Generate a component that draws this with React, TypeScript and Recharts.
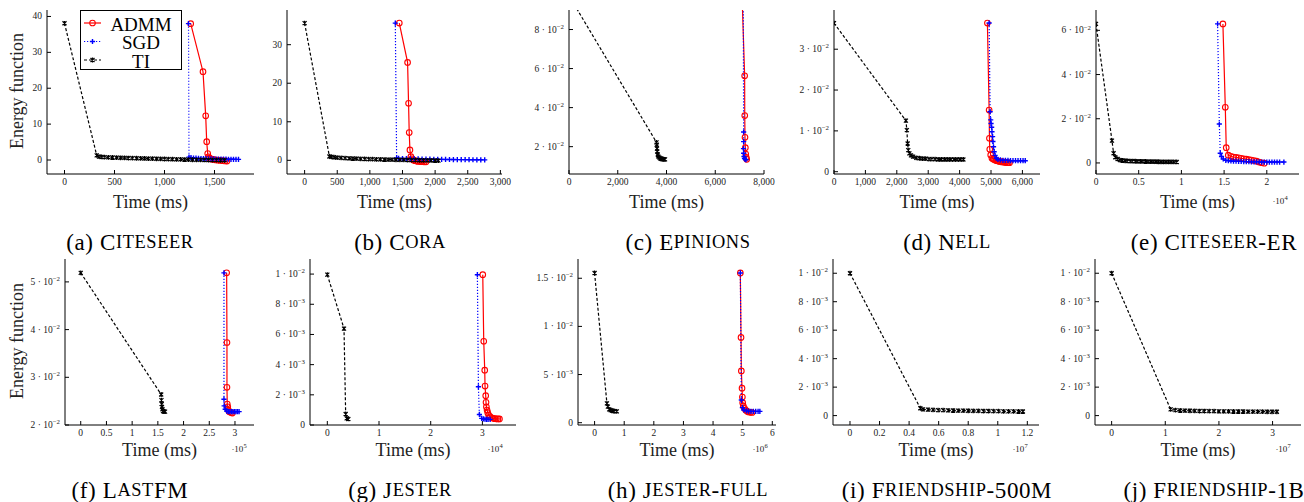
import { LineChart, Line, XAxis, YAxis } from 'recharts'

const SERIF = '"Liberation Serif", "Times New Roman", serif'
const RED = '#ff0000'
const BLUE = '#0000ff'
const INK = '#000000'

// (a) Citeseer -- time in ms
const admmA = [[1262, 38], [1385, 24.6], [1412, 12.3], [1422, 5.1], [1432, 1.8], [1440, 0.9], [1450, 0.5], [1465, 0.3], [1485, 0.15], [1505, 0.05], [1530, -0.05], [1555, -0.12], [1580, -0.2], [1605, -0.27], [1625, -0.3]]
const sgdA = [[1240, 38], [1245, 0.8], [1265, 0.65], [1290, 0.55], [1315, 0.5], [1340, 0.46], [1365, 0.42], [1390, 0.39], [1415, 0.36], [1440, 0.34], [1465, 0.32], [1490, 0.3], [1515, 0.28], [1540, 0.26], [1565, 0.25], [1590, 0.23], [1615, 0.22], [1640, 0.21], [1665, 0.2], [1690, 0.19], [1715, 0.18], [1740, 0.17]]
const tiA = [[0, 38.1], [322, 1.3], [345, 0.95], [370, 0.85], [400, 0.8], [440, 0.75], [480, 0.7], [520, 0.66], [560, 0.62], [600, 0.58], [640, 0.55], [680, 0.52], [720, 0.49], [760, 0.46], [800, 0.43], [840, 0.4], [880, 0.37], [920, 0.34], [960, 0.31], [1000, 0.28], [1040, 0.25], [1080, 0.22], [1120, 0.19], [1160, 0.16], [1200, 0.13], [1240, 0.1], [1280, 0.07], [1320, 0.05], [1360, 0.03], [1400, 0.01], [1440, -0.01], [1480, -0.03], [1520, -0.05], [1560, -0.07], [1600, -0.08]]

// (b) Cora
const admmB = [[1451, 35.6], [1578, 25.4], [1593, 14.8], [1603, 7.2], [1614, 2.7], [1629, 0.95], [1645, 0.4], [1665, 0.1], [1690, -0.1], [1715, -0.2], [1740, -0.28], [1770, -0.33], [1800, -0.36], [1830, -0.38], [1860, -0.4]]
const sgdB = [[1390, 35.6], [1410, 0.6], [1440, 0.5], [1500, 0.46], [1560, 0.43], [1620, 0.4], [1680, 0.37], [1740, 0.35], [1800, 0.33], [1860, 0.31], [1920, 0.29], [1980, 0.27], [2040, 0.25], [2100, 0.24], [2160, 0.22], [2220, 0.21], [2280, 0.2], [2340, 0.19], [2400, 0.18], [2460, 0.17], [2520, 0.16], [2580, 0.15], [2640, 0.14], [2700, 0.13], [2760, 0.12]]
const tiB = [[0, 35.6], [380, 1.0], [410, 0.9], [450, 0.8], [500, 0.7], [560, 0.62], [620, 0.56], [680, 0.5], [740, 0.46], [800, 0.42], [860, 0.38], [920, 0.35], [980, 0.32], [1040, 0.29], [1100, 0.26], [1160, 0.23], [1220, 0.2], [1280, 0.18], [1340, 0.16], [1400, 0.14], [1460, 0.12], [1520, 0.1], [1580, 0.08], [1640, 0.06], [1700, 0.04], [1760, 0.02], [1820, 0.0], [1880, -0.02], [1940, -0.04], [2000, -0.06], [2050, -0.08]]

// (c) Epinions
const admmC = [[7100, 0.097], [7206, 0.0563], [7210, 0.0359], [7220, 0.0248], [7235, 0.0195], [7250, 0.0162], [7270, 0.0145], [7290, 0.0135]]
const sgdC = [[7150, 0.097], [7165, 0.0275], [7165, 0.0226], [7160, 0.019], [7165, 0.0166], [7180, 0.015], [7200, 0.014], [7230, 0.0135], [7260, 0.0133]]
const tiC = [[0, 0.0973], [3590, 0.0222], [3600, 0.021], [3610, 0.019], [3620, 0.0175], [3640, 0.016], [3660, 0.015], [3700, 0.0145], [3740, 0.014], [3780, 0.0138], [3820, 0.0137], [3860, 0.0136], [3900, 0.0135], [3940, 0.0135]]

// (d) Nell
const admmD = [[4885, 0.0364], [4940, 0.0151], [4950, 0.0082], [4960, 0.0055], [4990, 0.0041], [5030, 0.0033], [5070, 0.0031], [5110, 0.0029], [5150, 0.0028], [5190, 0.0027], [5230, 0.0026], [5270, 0.0025], [5310, 0.0025], [5350, 0.0024], [5390, 0.0024], [5430, 0.0023], [5470, 0.0023], [5510, 0.0022], [5550, 0.0022], [5590, 0.0022]]
const sgdD = [[4940, 0.0364], [4971, 0.0147], [4990, 0.0127], [5000, 0.0118], [5020, 0.0109], [5030, 0.0098], [5050, 0.0086], [5060, 0.0074], [5080, 0.0061], [5100, 0.0049], [5130, 0.004], [5170, 0.0033], [5220, 0.003], [5300, 0.0029], [5380, 0.0028], [5460, 0.0028], [5540, 0.0028], [5620, 0.0027], [5700, 0.0027], [5780, 0.0027], [5860, 0.0027], [5940, 0.0027], [6020, 0.0027], [6090, 0.0027]]
const tiD = [[0, 0.0364], [2290, 0.0125], [2320, 0.0102], [2345, 0.0069], [2365, 0.0053], [2400, 0.0045], [2450, 0.004], [2520, 0.0037], [2620, 0.0034], [2720, 0.0033], [2820, 0.0032], [2920, 0.0032], [3020, 0.0031], [3120, 0.0031], [3220, 0.0031], [3320, 0.003], [3420, 0.003], [3520, 0.003], [3620, 0.003], [3720, 0.003], [3820, 0.003], [3920, 0.003], [4020, 0.003], [4120, 0.003]]

// (e) Citeseer-ER -- time in 10^4 ms
const admmE = [[1.486, 0.0629], [1.514, 0.0252], [1.525, 0.0069], [1.549, 0.0035], [1.58, 0.003], [1.61, 0.0027], [1.64, 0.0025], [1.67, 0.0023], [1.7, 0.0021], [1.73, 0.0019], [1.76, 0.0017], [1.79, 0.0015], [1.82, 0.0013], [1.85, 0.0011], [1.88, 0.0008], [1.91, 0.0004], [1.94, 0.0001], [1.97, -0.0001]]
const sgdE = [[1.424, 0.0629], [1.444, 0.0176], [1.455, 0.0044], [1.47, 0.0029], [1.49, 0.0018], [1.52, 0.0012], [1.55, 0.001], [1.58, 0.0009], [1.61, 0.0008], [1.64, 0.0008], [1.67, 0.0007], [1.7, 0.0007], [1.73, 0.0006], [1.76, 0.0006], [1.79, 0.0006], [1.82, 0.0005], [1.85, 0.0005], [1.88, 0.0005], [1.91, 0.0005], [1.94, 0.0004], [1.97, 0.0004], [2.0, 0.0004], [2.03, 0.0004], [2.06, 0.0004], [2.09, 0.0004], [2.12, 0.0004], [2.15, 0.0004], [2.2, 0.0004]]
const tiE = [[0, 0.0629], [0.187, 0.0101], [0.206, 0.0044], [0.226, 0.0026], [0.253, 0.0018], [0.28, 0.0013], [0.31, 0.0011], [0.34, 0.001], [0.37, 0.0009], [0.4, 0.00085], [0.43, 0.0008], [0.46, 0.00077], [0.49, 0.00074], [0.52, 0.00071], [0.55, 0.00068], [0.58, 0.00065], [0.61, 0.00062], [0.64, 0.0006], [0.67, 0.00058], [0.7, 0.00056], [0.73, 0.00054], [0.76, 0.00052], [0.79, 0.0005], [0.82, 0.00049], [0.85, 0.00048], [0.88, 0.00047], [0.91, 0.00046], [0.945, 0.00045]]

// (f) LastFM -- time in 10^5 ms
const admmF = [[2.838, 0.0519], [2.844, 0.0373], [2.844, 0.0279], [2.85, 0.0244], [2.86, 0.0238], [2.87, 0.0231], [2.89, 0.0228], [2.92, 0.0226], [2.95, 0.0225]]
const sgdF = [[2.786, 0.0519], [2.786, 0.0254], [2.79, 0.024], [2.81, 0.0233], [2.84, 0.0229], [2.87, 0.0228], [2.9, 0.0228], [2.93, 0.0228], [2.96, 0.0228], [2.99, 0.0228], [3.02, 0.0228], [3.05, 0.0228], [3.08, 0.0228]]
const tiF = [[0, 0.0519], [1.565, 0.0264], [1.57, 0.0252], [1.575, 0.0244], [1.58, 0.0238], [1.59, 0.0233], [1.6, 0.0229], [1.62, 0.0228], [1.64, 0.0228]]

// (g) Jester -- time in 10^4 ms
const admmG = [[3.007, 0.00996], [3.026, 0.00555], [3.045, 0.00363], [3.051, 0.00258], [3.064, 0.00194], [3.07, 0.0015], [3.077, 0.00121], [3.09, 0.00099], [3.103, 0.00082], [3.122, 0.00066], [3.148, 0.00055], [3.18, 0.00048], [3.21, 0.00044], [3.24, 0.00042], [3.27, 0.00041], [3.3, 0.0004], [3.33, 0.0004]]
const sgdG = [[2.903, 0.00996], [2.923, 0.00253], [2.942, 0.0007], [2.987, 0.00044], [3.02, 0.0004], [3.05, 0.00038], [3.08, 0.00037], [3.11, 0.00037], [3.15, 0.00037]]
const tiG = [[0, 0.00996], [0.323, 0.00639], [0.355, 0.00073], [0.374, 0.00044], [0.406, 0.0004]]

// (h) Jester-full -- time in 10^6 ms
const admmH = [[4.921, 0.01555], [4.944, 0.00885], [4.955, 0.00538], [4.978, 0.00358], [4.99, 0.00267], [5.0, 0.00208], [5.02, 0.00174], [5.06, 0.00149], [5.1, 0.00132], [5.15, 0.00118], [5.2, 0.00111], [5.26, 0.00108], [5.32, 0.00106]]
const sgdH = [[4.921, 0.01555], [4.955, 0.00236], [4.99, 0.00156], [5.04, 0.00132], [5.13, 0.00122], [5.2, 0.0012], [5.28, 0.00118], [5.36, 0.00118], [5.44, 0.00118], [5.52, 0.00118], [5.58, 0.00118]]
const tiH = [[0, 0.01555], [0.416, 0.00201], [0.449, 0.00167], [0.494, 0.00139], [0.54, 0.0013], [0.584, 0.00125], [0.63, 0.00121], [0.68, 0.0012], [0.75, 0.00118]]

// (i) Friendship-500M -- time in 10^7 ms, TI only
const tiI = [[0, 0.01], [0.476, 0.000515], [0.494, 0.00044], [0.528, 0.00042], [0.562, 0.0004], [0.596, 0.00039], [0.63, 0.00038], [0.664, 0.00037], [0.698, 0.00036], [0.732, 0.00035], [0.766, 0.00035], [0.8, 0.00034], [0.834, 0.00033], [0.868, 0.00033], [0.902, 0.00032], [0.936, 0.00032], [0.97, 0.00031], [1.004, 0.00031], [1.038, 0.0003], [1.072, 0.0003], [1.106, 0.0003], [1.14, 0.00029], [1.17, 0.00029]]

// (j) Friendship-1B -- time in 10^7 ms, TI only
const tiJ = [[0, 0.01], [1.1, 0.00044], [1.19, 0.00038], [1.28, 0.00036], [1.37, 0.00035], [1.46, 0.00034], [1.55, 0.00033], [1.64, 0.00032], [1.73, 0.00032], [1.82, 0.00031], [1.91, 0.00031], [2.0, 0.0003], [2.09, 0.0003], [2.18, 0.0003], [2.27, 0.00029], [2.36, 0.00029], [2.45, 0.00029], [2.54, 0.00028], [2.63, 0.00028], [2.72, 0.00028], [2.81, 0.00028], [2.9, 0.00027], [2.99, 0.00027], [3.08, 0.00027]]

// tick values and their labels ("^" marks a superscript)
const xTicksA = [0, 500, 1000, 1500]
const xLabelsA = ['0', '500', '1,000', '1,500']
const xTicksB = [0, 500, 1000, 1500, 2000, 2500, 3000]
const xLabelsB = ['0', '500', '1,000', '1,500', '2,000', '2,500', '3,000']
const xTicksC = [0, 2000, 4000, 6000, 8000]
const xLabelsC = ['0', '2,000', '4,000', '6,000', '8,000']
const xTicksD = [0, 1000, 2000, 3000, 4000, 5000, 6000]
const xLabelsD = ['0', '1,000', '2,000', '3,000', '4,000', '5,000', '6,000']
const xTicksE = [0, 0.5, 1, 1.5, 2]
const xLabelsE = ['0', '0.5', '1', '1.5', '2']
const xTicksF = [0, 0.5, 1, 1.5, 2, 2.5, 3]
const xLabelsF = ['0', '0.5', '1', '1.5', '2', '2.5', '3']
const xTicksG = [0, 1, 2, 3]
const xLabelsG = ['0', '1', '2', '3']
const xTicksH = [0, 1, 2, 3, 4, 5, 6]
const xLabelsH = ['0', '1', '2', '3', '4', '5', '6']
const xTicksI = [0, 0.2, 0.4, 0.6, 0.8, 1, 1.2]
const xLabelsI = ['0', '0.2', '0.4', '0.6', '0.8', '1', '1.2']
const xTicksJ = [0, 1, 2, 3]
const xLabelsJ = ['0', '1', '2', '3']

const yTicksA = [0, 10, 20, 30, 40]
const yLabelsA = ['0', '10', '20', '30', '40']
const yTicksB = [0, 10, 20, 30]
const yLabelsB = ['0', '10', '20', '30']
const yTicksC = [0.02, 0.04, 0.06, 0.08]
const yLabelsC = ['2 · 10^−2', '4 · 10^−2', '6 · 10^−2', '8 · 10^−2']
const yTicksD = [0, 0.01, 0.02, 0.03]
const yLabelsD = ['0', '1 · 10^−2', '2 · 10^−2', '3 · 10^−2']
const yTicksE = [0, 0.02, 0.04, 0.06]
const yLabelsE = ['0', '2 · 10^−2', '4 · 10^−2', '6 · 10^−2']
const yTicksF = [0.02, 0.03, 0.04, 0.05]
const yLabelsF = ['2 · 10^−2', '3 · 10^−2', '4 · 10^−2', '5 · 10^−2']
const yTicksG = [0, 0.002, 0.004, 0.006, 0.008, 0.01]
const yLabelsG = ['0', '2 · 10^−3', '4 · 10^−3', '6 · 10^−3', '8 · 10^−3', '1 · 10^−2']
const yTicksH = [0, 0.005, 0.01, 0.015]
const yLabelsH = ['0', '5 · 10^−3', '1 · 10^−2', '1.5 · 10^−2']
const yTicksIJ = [0, 0.002, 0.004, 0.006, 0.008, 0.01]
const yLabelsIJ = ['0', '2 · 10^−3', '4 · 10^−3', '6 · 10^−3', '8 · 10^−3', '1 · 10^−2']

const captionTags = ['(a)', '(b)', '(c)', '(d)', '(e)', '(f)', '(g)', '(h)', '(i)', '(j)']
const captionNames = ['Citeseer', 'Cora', 'Epinions', 'Nell', 'Citeseer-ER', 'LastFM', 'Jester', 'Jester-full', 'Friendship-500M', 'Friendship-1B']
const xScaleNotes = ['', '', '', '', '·10^4', '·10^5', '·10^4', '·10^6', '·10^7', '·10^7']
const seriesNames = ['ADMM', 'SGD', 'TI']

const rows = (p: number[][]) => p.map(([x, y]) => ({ x, y }))

function AdmmMark(props: any) {
  const { cx, cy, index } = props
  if (cx == null || cy == null) return <g key={index} />
  return <circle key={index} cx={cx} cy={cy} r={2.8} fill="none" stroke={RED} strokeWidth={1.1} />
}

function SgdMark(props: any) {
  const { cx, cy, index } = props
  if (cx == null || cy == null) return <g key={index} />
  return <path key={index} d={`M${cx - 2.6},${cy}h5.2M${cx},${cy - 2.6}v5.2`} stroke={BLUE} strokeWidth={1.4} fill="none" />
}

function TiMark(props: any) {
  const { cx, cy, index } = props
  if (cx == null || cy == null) return <g key={index} />
  return (
    <path
      key={index}
      d={`M${cx - 2},${cy - 2}L${cx + 2},${cy + 2}M${cx - 2},${cy + 2}L${cx + 2},${cy - 2}M${cx},${cy - 2.4}v4.8`}
      stroke={INK}
      strokeWidth={1.2}
      fill="none"
    />
  )
}

// text with an optional superscript part after "^"
function Sup({ label, size }: { label: string; size: number }) {
  const [base, exp] = label.split('^')
  return (
    <>
      {base}
      {exp && <tspan dy={-size * 0.4} fontSize={size * 0.72}>{exp}</tspan>}
    </>
  )
}

// small capitals: lower-case runs are upper-cased and set smaller
function SmallCaps({ text, size }: { text: string; size: number }) {
  const parts = text.match(/[a-z]+|[^a-z]+/g) || []
  return (
    <>
      {parts.map((s, k) =>
        /[a-z]/.test(s)
          ? <tspan key={k} fontSize={size * 0.8}>{s.toUpperCase()}</tspan>
          : <tspan key={k} fontSize={size}>{s}</tspan>
      )}
    </>
  )
}

type PanelCfg = {
  box: number[]
  xd: number[]
  yd: number[]
  xt: number[]
  xl: string[]
  yt: number[]
  yl: string[]
  admm?: number[][]
  sgd?: number[][]
  ti: number[][]
}

const panels: PanelCfg[] = [
  { box: [47, 10, 207, 164], xd: [-175, 1895], yd: [-3.9, 41.8], xt: xTicksA, xl: xLabelsA, yt: yTicksA, yl: yLabelsA, admm: admmA, sgd: sgdA, ti: tiA },
  { box: [287, 10, 215, 164], xd: [-270, 3025], yd: [-3.55, 39], xt: xTicksB, xl: xLabelsB, yt: yTicksB, yl: yLabelsB, admm: admmB, sgd: sgdB, ti: tiB },
  { box: [569, 10, 195, 164], xd: [0, 8000], yd: [0.006, 0.09], xt: xTicksC, xl: xLabelsC, yt: yTicksC, yl: yLabelsC, admm: admmC, sgd: sgdC, ti: tiC },
  { box: [834, 10, 206, 164], xd: [0, 6560], yd: [-0.00056, 0.0396], xt: xTicksD, xl: xLabelsD, yt: yTicksD, yl: yLabelsD, admm: admmD, sgd: sgdD, ti: tiD },
  { box: [1096, 10, 203, 164], xd: [0, 2.377], yd: [-0.005, 0.0692], xt: xTicksE, xl: xLabelsE, yt: yTicksE, yl: yLabelsE, admm: admmE, sgd: sgdE, ti: tiE },
  { box: [65, 259, 189, 166], xd: [-0.306, 3.37], yd: [0.02, 0.0548], xt: xTicksF, xl: xLabelsF, yt: yTicksF, yl: yLabelsF, admm: admmF, sgd: sgdF, ti: tiF },
  { box: [310, 259, 206, 166], xd: [-0.335, 3.65], yd: [0, 0.011], xt: xTicksG, xl: xLabelsG, yt: yTicksG, yl: yLabelsG, admm: admmG, sgd: sgdG, ti: tiG },
  { box: [578, 259, 198, 166], xd: [-0.56, 6.125], yd: [-0.00024, 0.017], xt: xTicksH, xl: xLabelsH, yt: yTicksH, yl: yLabelsH, admm: admmH, sgd: sgdH, ti: tiH },
  { box: [833, 259, 206, 166], xd: [-0.115, 1.279], yd: [-0.00066, 0.011], xt: xTicksI, xl: xLabelsI, yt: yTicksIJ, yl: yLabelsIJ, ti: tiI },
  { box: [1095, 259, 206, 166], xd: [-0.31, 3.53], yd: [-0.00066, 0.011], xt: xTicksJ, xl: xLabelsJ, yt: yTicksIJ, yl: yLabelsIJ, ti: tiJ },
]

const TICK_SIZE = 9.5
const tickFont = { fontSize: TICK_SIZE, fill: '#222', fontFamily: SERIF }

function Panel({ cfg }: { cfg: PanelCfg }) {
  const [l, t, w, h] = cfg.box
  const xf = (v: number) => cfg.xl[cfg.xt.indexOf(v)] ?? ''
  const blank = () => ''
  const yTick = (props: any) => {
    const { x, y, payload } = props
    const label = cfg.yl[cfg.yt.indexOf(payload.value)] ?? ''
    return (
      <text x={x} y={y} textAnchor="end" dominantBaseline="central" fontSize={TICK_SIZE} fill="#222" fontFamily={SERIF}>
        <Sup label={label} size={TICK_SIZE} />
      </text>
    )
  }
  return (
    <div style={{ position: 'absolute', left: l - 60, top: t - 6 }}>
      <LineChart width={w + 84} height={h + 36} margin={{ top: 6, right: 24, left: 0, bottom: 0 }}>
        <XAxis xAxisId="b" type="number" dataKey="x" domain={cfg.xd} ticks={cfg.xt} interval={0} allowDataOverflow
          height={30} tickSize={-4} tickMargin={8.5} tickFormatter={xf} tick={tickFont} stroke={INK} />
        <XAxis xAxisId="t" orientation="top" type="number" dataKey="x" domain={cfg.xd} ticks={cfg.xt} interval={0} allowDataOverflow
          height={0} tickSize={-4} tickFormatter={blank} tick={tickFont} stroke={INK} />
        <YAxis yAxisId="l" type="number" domain={cfg.yd} ticks={cfg.yt} interval={0} allowDataOverflow
          width={60} tickSize={-4} tickMargin={9} tick={yTick} stroke={INK} />
        <YAxis yAxisId="r" orientation="right" type="number" domain={cfg.yd} ticks={cfg.yt} interval={0} allowDataOverflow
          width={0} tickSize={-4} tickFormatter={blank} tick={tickFont} stroke={INK} />
        {cfg.admm && (
          <Line xAxisId="b" yAxisId="l" data={rows(cfg.admm)} dataKey="y" type="linear" stroke={RED} strokeWidth={1.2}
            dot={AdmmMark} activeDot={false} isAnimationActive={false} />
        )}
        {cfg.sgd && (
          <Line xAxisId="b" yAxisId="l" data={rows(cfg.sgd)} dataKey="y" type="linear" stroke={BLUE} strokeWidth={1.2}
            strokeDasharray="1.2 1.8" dot={SgdMark} activeDot={false} isAnimationActive={false} />
        )}
        <Line xAxisId="b" yAxisId="l" data={rows(cfg.ti)} dataKey="y" type="linear" stroke={INK} strokeWidth={1.2}
          strokeDasharray="3 2" dot={TiMark} activeDot={false} isAnimationActive={false} />
      </LineChart>
    </div>
  )
}

const colCenters = [130, 400, 688, 947, 1214]
const noteX = [0, 0, 0, 0, 1280, 239, 495, 760, 1020, 1283]

export default function App() {
  const legendMarks = [AdmmMark, SgdMark, TiMark]
  const legendColors = [RED, BLUE, INK]
  const legendDash = ['', '1.2 1.8', '3 2']
  return (
    <div style={{ position: 'absolute', left: 0, top: 0, width: 1304, height: 502, background: '#fff' }}>
      {panels.map((p, i) => <Panel key={i} cfg={p} />)}
      <svg width={1304} height={502} fontFamily={SERIF} style={{ position: 'absolute', left: 0, top: 0, pointerEvents: 'none' }}>
        <text transform="translate(17,91) rotate(-90)" textAnchor="middle" dominantBaseline="central" fontSize={18} fill="#222" fontFamily={SERIF}>Energy function</text>
        <text transform="translate(17,341) rotate(-90)" textAnchor="middle" dominantBaseline="central" fontSize={18} fill="#222" fontFamily={SERIF}>Energy function</text>
        {panels.map((p, i) => {
          const [l, t, w, h] = p.box
          const row = i < 5 ? 0 : 1
          return (
            <g key={i}>
              <text x={l + w / 2} y={t + h + (row === 0 ? 27.5 : 25)} textAnchor="middle" dominantBaseline="central" fontSize={18} fill="#222" fontFamily={SERIF}>Time (ms)</text>
              {xScaleNotes[i] && (
                <text x={noteX[i]} y={row === 0 ? 201 : 449} textAnchor="middle" dominantBaseline="central" fontSize={9} fill="#222" fontFamily={SERIF}>
                  <Sup label={xScaleNotes[i]} size={9} />
                </text>
              )}
              <text x={colCenters[i % 5]} y={row === 0 ? 242 : 490} textAnchor="middle" dominantBaseline="central" fontSize={23} fill="#000" fontFamily={SERIF} letterSpacing={0.6}>
                <tspan>{captionTags[i]} </tspan>
                <SmallCaps text={captionNames[i]} size={23} />
              </text>
            </g>
          )
        })}
        <rect x={80.5} y={10.5} width={101} height={59} fill="#fff" stroke={INK} strokeWidth={1} />
        {seriesNames.map((s, k) => {
          const y = 23 + k * 18.5
          const Mark = legendMarks[k]
          return (
            <g key={s}>
              <line x1={84} x2={101} y1={y} y2={y} stroke={legendColors[k]} strokeWidth={1.2} strokeDasharray={legendDash[k] || undefined} />
              <Mark cx={92.5} cy={y} index={k} />
              <text x={141} y={y + 1} textAnchor="middle" dominantBaseline="central" fontSize={19} fill="#000" fontFamily={SERIF}>{s}</text>
            </g>
          )
        })}
      </svg>
    </div>
  )
}
